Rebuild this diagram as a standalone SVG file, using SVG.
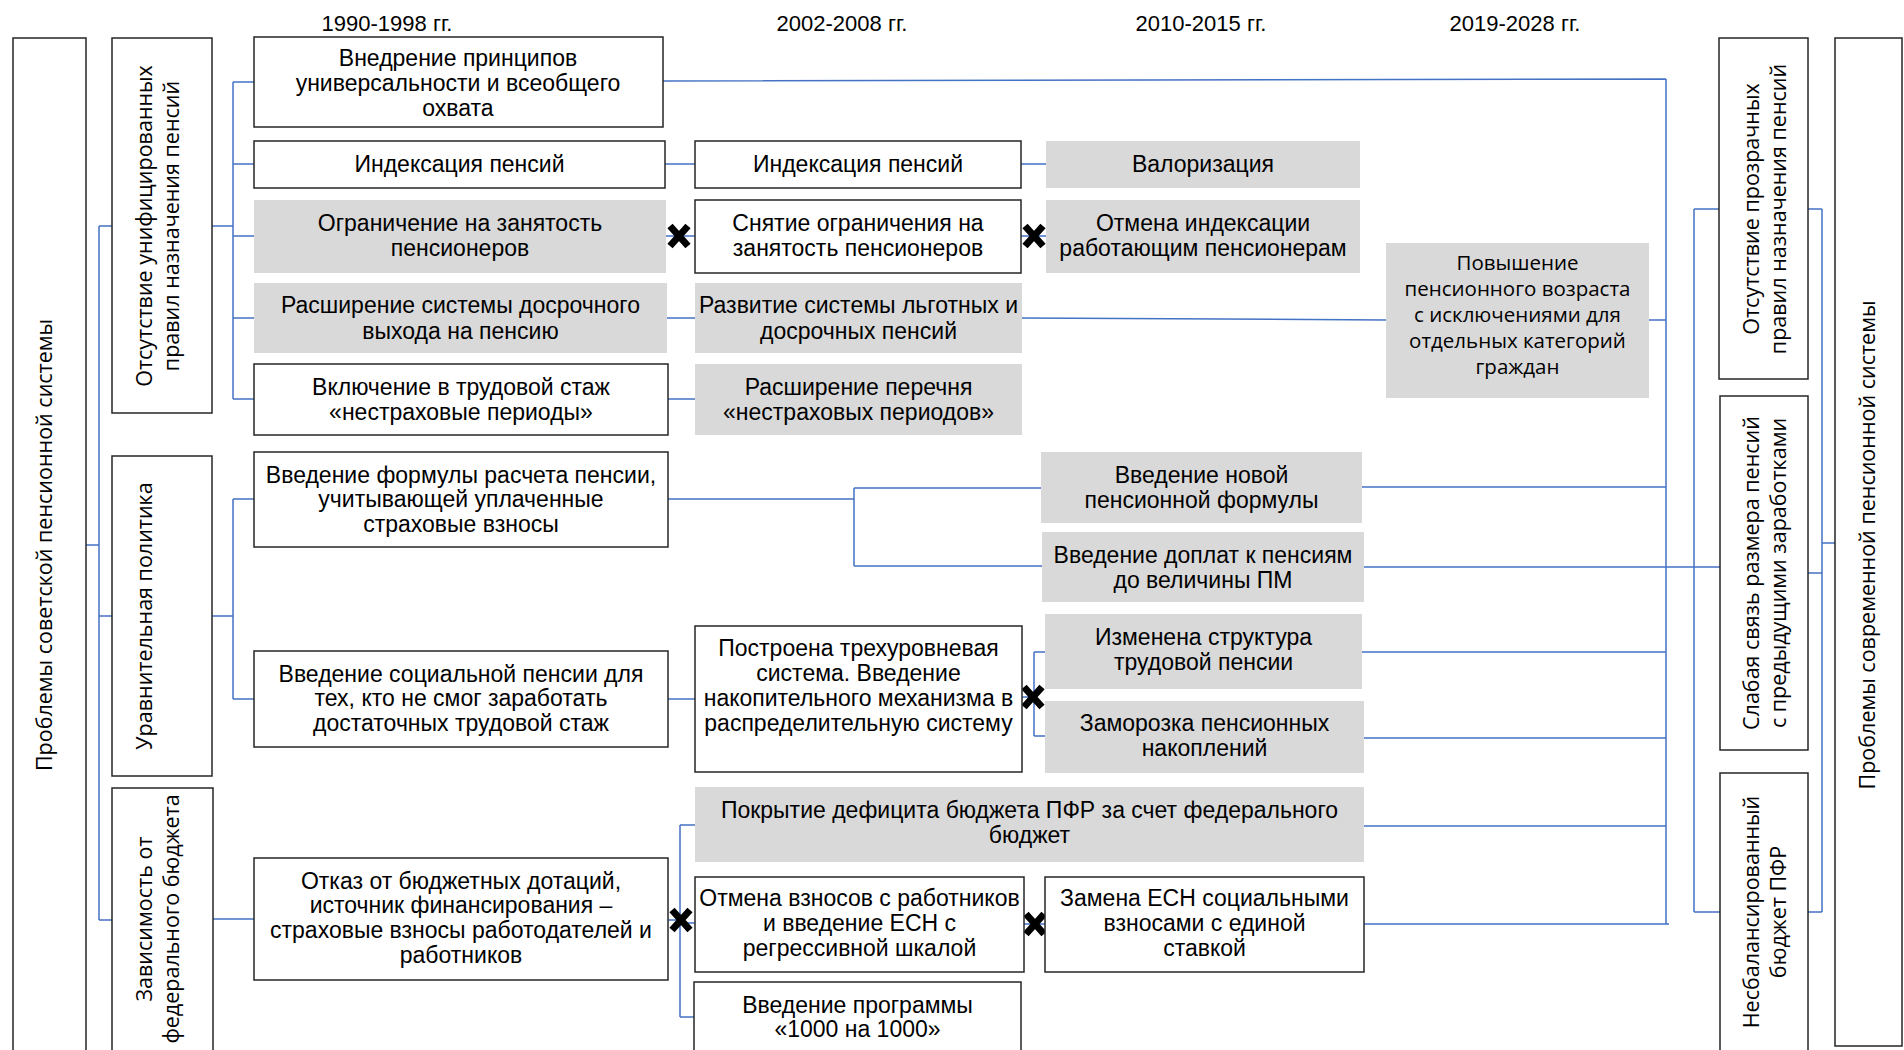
<svg xmlns="http://www.w3.org/2000/svg" width="1904" height="1050" viewBox="0 0 1904 1050">
<style>
.w{fill:#ffffff;stroke:#262626;stroke-width:1.5}
.g{fill:#d9d9d9;stroke:none}
.t{font-family:"Liberation Sans",Arial,sans-serif;font-size:23px;fill:#000;text-anchor:middle}
.y{font-family:"Liberation Sans",Arial,sans-serif;font-size:22px;fill:#000;text-anchor:middle}
.s{font-family:"Open Sans","Noto Sans",sans-serif;font-size:20.5px;fill:#000;text-anchor:middle}
.r{font-family:"Open Sans","Noto Sans",sans-serif;font-size:21.5px;fill:#000;text-anchor:middle}
.c{fill:none;stroke:#4472c4;stroke-width:1.5}
.x{stroke:#000;stroke-width:7;stroke-linecap:butt}
</style>
<rect width="1904" height="1050" fill="#ffffff"/>

<g id="years">
<text class="y" x="387" y="31">1990-1998 гг.</text>
<text class="y" x="842" y="31">2002-2008 гг.</text>
<text class="y" x="1201" y="31">2010-2015 гг.</text>
<text class="y" x="1515" y="31">2019-2028 гг.</text>
</g>

<g id="connectors">
<path class="c" d="M86,545H99M99,226V920M99,226H112M99,616H112M99,920H112"/>
<path class="c" d="M212,226H233M233,82V399M233,82H254M233,164H254M233,236H254M233,318H254M233,399H254"/>
<path class="c" d="M212,616H233M233,499V699M233,499H254M233,699H254"/>
<path class="c" d="M213,919H254"/>
<path class="c" d="M665,164H695M666,236H695M667,318H695M668,399H695"/>
<path class="c" d="M1021,164H1046M1021,236H1046"/>
<path class="c" d="M1022,318L1386,320"/>
<path class="c" d="M668,499H854M854,488V566M854,488H1041M854,566H1042"/>
<path class="c" d="M668,699H695"/>
<path class="c" d="M1022,697H1034M1034,652V736M1034,652H1045M1034,736H1045"/>
<path class="c" d="M668,920H680M680,825V1017M680,825H695M680,923H695M680,1017H695"/>
<path class="c" d="M1024,924H1045"/>
<path class="c" d="M663,81L1666,79M1666,79V924M1649,320H1666"/>
<path class="c" d="M1362,487H1666M1364,567H1720M1362,652H1666M1364,738H1666M1364,826H1666M1364,924H1669"/>
<path class="c" d="M1694,209V912M1694,209H1719M1694,912H1720"/>
<path class="c" d="M1808,209H1822M1822,209V912M1808,573H1822M1808,912H1822M1822,543H1835"/>
</g>

<g id="xmarks">
<path class="x" d="M670,226L688,246M688,226L670,246"/>
<path class="x" d="M1025,226L1043,246M1043,226L1025,246"/>
<path class="x" d="M1024,687L1042,707M1042,687L1024,707"/>
<path class="x" d="M672,910L690,930M690,910L672,930"/>
<path class="x" d="M1026,914L1044,934M1044,914L1026,934"/>
</g>

<g id="soviet-problems">
<rect class="w" x="13" y="38" width="73" height="1020"/>
<text class="r" transform="translate(52,545) rotate(-90)">Проблемы советской пенсионной системы</text>
</g>
<g id="no-unified-rules">
<rect class="w" x="112" y="38" width="100" height="375"/>
<text class="r" transform="translate(152,226) rotate(-90)"><tspan x="0" y="0">Отсутствие унифицированных</tspan><tspan x="0" y="27">правил назначения пенсий</tspan></text>
</g>
<g id="leveling-policy">
<rect class="w" x="112" y="456" width="100" height="320"/>
<text class="r" transform="translate(152,616) rotate(-90)">Уравнительная политика</text>
</g>
<g id="budget-dependence">
<rect class="w" x="112" y="788" width="101" height="270"/>
<text class="r" transform="translate(152,919) rotate(-90)"><tspan x="0" y="0">Зависимость от</tspan><tspan x="0" y="27">федерального бюджета</tspan></text>
</g>

<g id="no-transparent-rules">
<rect class="w" x="1719" y="38" width="89" height="341"/>
<text class="r" transform="translate(1759,209) rotate(-90)"><tspan x="0" y="0">Отсутствие прозрачных</tspan><tspan x="0" y="27">правил назначения пенсий</tspan></text>
</g>
<g id="weak-link">
<rect class="w" x="1720" y="396" width="88" height="354"/>
<text class="r" transform="translate(1759,573) rotate(-90)"><tspan x="0" y="0">Слабая связь размера пенсий</tspan><tspan x="0" y="27">с предыдущими заработками</tspan></text>
</g>
<g id="unbalanced-budget">
<rect class="w" x="1720" y="773" width="88" height="290"/>
<text class="r" transform="translate(1759,912) rotate(-90)"><tspan x="0" y="0">Несбалансированный</tspan><tspan x="0" y="27">бюджет ПФР</tspan></text>
</g>
<g id="modern-problems">
<rect class="w" x="1835" y="38" width="67" height="1008"/>
<text class="r" transform="translate(1875,545) rotate(-90)">Проблемы современной пенсионной системы</text>
</g>

<g id="universality">
<rect class="w" x="254" y="37" width="409" height="90"/>
<text class="t"><tspan x="458" y="66">Внедрение принципов</tspan><tspan x="458" y="91">универсальности и всеобщего</tspan><tspan x="458" y="116">охвата</tspan></text>
</g>
<g id="indexation-1">
<rect class="w" x="254" y="141" width="411" height="47"/>
<text class="t" x="459.5" y="172">Индексация пенсий</text>
</g>
<g id="employment-limit">
<rect class="g" x="254" y="200" width="412" height="73"/>
<text class="t"><tspan x="460" y="231">Ограничение на занятость</tspan><tspan x="460" y="256">пенсионеров</tspan></text>
</g>
<g id="early-retirement">
<rect class="g" x="254" y="283" width="413" height="70"/>
<text class="t"><tspan x="460.5" y="313">Расширение системы досрочного</tspan><tspan x="460.5" y="339">выхода на пенсию</tspan></text>
</g>
<g id="non-insurance">
<rect class="w" x="254" y="364" width="414" height="71"/>
<text class="t"><tspan x="461" y="395">Включение в трудовой стаж</tspan><tspan x="461" y="420">«нестраховые периоды»</tspan></text>
</g>
<g id="indexation-2">
<rect class="w" x="695" y="141" width="326" height="47"/>
<text class="t" x="858" y="172">Индексация пенсий</text>
</g>
<g id="limit-removal">
<rect class="w" x="695" y="200" width="326" height="73"/>
<text class="t"><tspan x="858" y="231">Снятие ограничения на</tspan><tspan x="858" y="256">занятость пенсионеров</tspan></text>
</g>
<g id="preferential">
<rect class="g" x="695" y="283" width="327" height="70"/>
<text class="t"><tspan x="858.5" y="313">Развитие системы льготных и</tspan><tspan x="858.5" y="339">досрочных пенсий</tspan></text>
</g>
<g id="non-insurance-2">
<rect class="g" x="695" y="364" width="327" height="71"/>
<text class="t"><tspan x="858.5" y="395">Расширение перечня</tspan><tspan x="858.5" y="420">«нестраховых периодов»</tspan></text>
</g>
<g id="valorization">
<rect class="g" x="1046" y="141" width="314" height="47"/>
<text class="t" x="1203" y="172">Валоризация</text>
</g>
<g id="indexation-cancel">
<rect class="g" x="1046" y="200" width="314" height="73"/>
<text class="t"><tspan x="1203" y="231">Отмена индексации</tspan><tspan x="1203" y="256">работающим пенсионерам</tspan></text>
</g>
<g id="retirement-age">
<rect class="g" x="1386" y="243" width="263" height="155"/>
<text class="s"><tspan x="1517.5" y="270">Повышение</tspan><tspan x="1517.5" y="296">пенсионного возраста</tspan><tspan x="1517.5" y="322">с исключениями для</tspan><tspan x="1517.5" y="348">отдельных категорий</tspan><tspan x="1517.5" y="374">граждан</tspan></text>
</g>
<g id="formula">
<rect class="w" x="254" y="452" width="414" height="95"/>
<text class="t"><tspan x="461" y="483">Введение формулы расчета пенсии,</tspan><tspan x="461" y="507">учитывающей уплаченные</tspan><tspan x="461" y="532">страховые взносы</tspan></text>
</g>
<g id="social-pension">
<rect class="w" x="254" y="651" width="414" height="96"/>
<text class="t"><tspan x="461" y="682">Введение социальной пенсии для</tspan><tspan x="461" y="706">тех, кто не смог заработать</tspan><tspan x="461" y="731">достаточных трудовой стаж</tspan></text>
</g>
<g id="new-formula">
<rect class="g" x="1041" y="452" width="321" height="71"/>
<text class="t"><tspan x="1201.5" y="483">Введение новой</tspan><tspan x="1201.5" y="508">пенсионной формулы</tspan></text>
</g>
<g id="supplements">
<rect class="g" x="1042" y="532" width="322" height="70"/>
<text class="t"><tspan x="1203" y="563">Введение доплат к пенсиям</tspan><tspan x="1203" y="588">до величины ПМ</tspan></text>
</g>
<g id="three-tier">
<rect class="w" x="695" y="626" width="327" height="146"/>
<text class="t"><tspan x="858.5" y="656">Построена трехуровневая</tspan><tspan x="858.5" y="681">система. Введение</tspan><tspan x="858.5" y="706">накопительного механизма в</tspan><tspan x="858.5" y="731">распределительную систему</tspan></text>
</g>
<g id="structure-change">
<rect class="g" x="1045" y="614" width="317" height="75"/>
<text class="t"><tspan x="1203.5" y="645">Изменена структура</tspan><tspan x="1203.5" y="670">трудовой пенсии</tspan></text>
</g>
<g id="savings-freeze">
<rect class="g" x="1045" y="701" width="319" height="72"/>
<text class="t"><tspan x="1204.5" y="731">Заморозка пенсионных</tspan><tspan x="1204.5" y="756">накоплений</tspan></text>
</g>
<g id="deficit-coverage">
<rect class="g" x="695" y="787" width="669" height="75"/>
<text class="t"><tspan x="1029.5" y="818">Покрытие дефицита бюджета ПФР за счет федерального</tspan><tspan x="1029.5" y="843">бюджет</tspan></text>
</g>
<g id="subsidies-refusal">
<rect class="w" x="254" y="858" width="414" height="122"/>
<text class="t"><tspan x="461" y="889">Отказ от бюджетных дотаций,</tspan><tspan x="461" y="913">источник финансирования –</tspan><tspan x="461" y="938">страховые взносы работодателей и</tspan><tspan x="461" y="963">работников</tspan></text>
</g>
<g id="esn">
<rect class="w" x="695" y="877" width="329" height="95"/>
<text class="t"><tspan x="859.5" y="906">Отмена взносов с работников</tspan><tspan x="859.5" y="931">и введение ЕСН с</tspan><tspan x="859.5" y="956">регрессивной шкалой</tspan></text>
</g>
<g id="esn-replacement">
<rect class="w" x="1045" y="877" width="319" height="95"/>
<text class="t"><tspan x="1204.5" y="906">Замена ЕСН социальными</tspan><tspan x="1204.5" y="931">взносами с единой</tspan><tspan x="1204.5" y="956">ставкой</tspan></text>
</g>
<g id="program-1000">
<rect class="w" x="694" y="982" width="327" height="80"/>
<text class="t"><tspan x="857.5" y="1013">Введение программы</tspan><tspan x="857.5" y="1037">«1000 на 1000»</tspan></text>
</g>
</svg>
